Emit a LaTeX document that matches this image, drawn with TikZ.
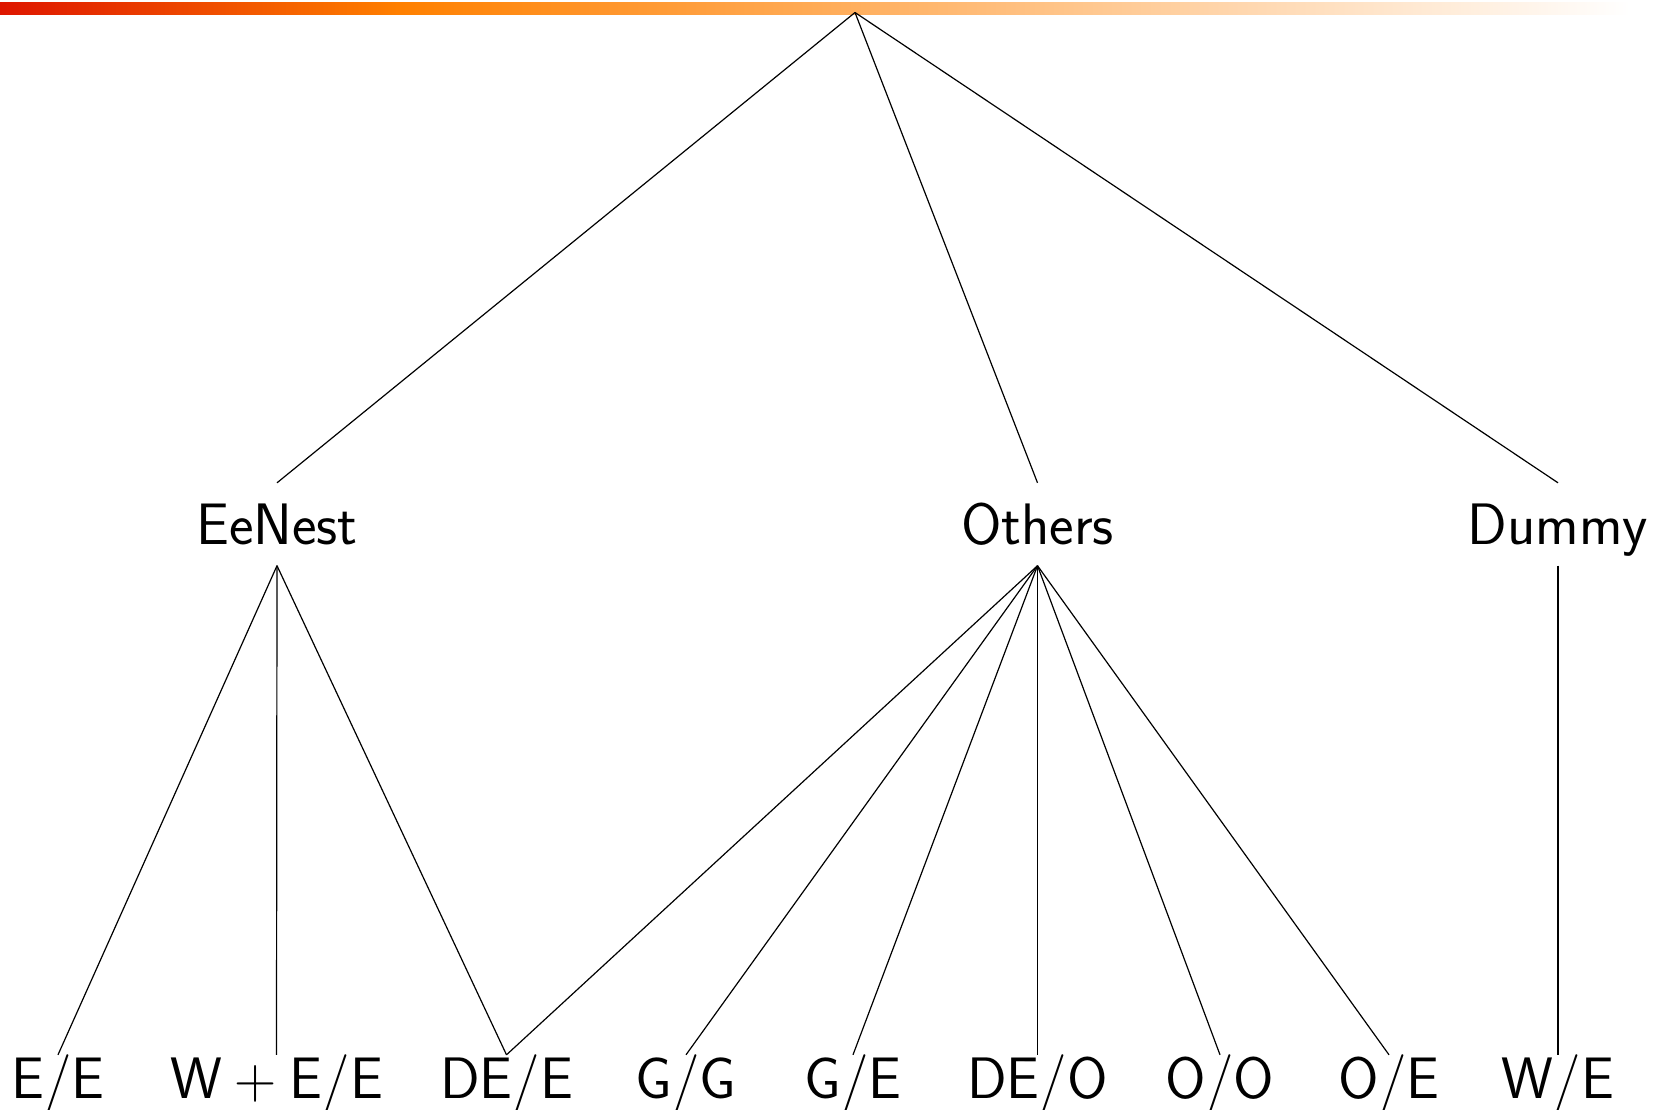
\documentclass[tikz,border=0pt]{standalone}
\definecolor{barred}{RGB}{222,22,0}
\definecolor{barorange}{RGB}{255,128,0}
\newcommand{\binplus}{\hspace{0.22em}{\rmfamily +}\hspace{0.22em}}
\begin{document}
\begin{tikzpicture}[x=1pt,y=-1pt,
  lbl/.style={font={\fontsize{58.5}{70}\selectfont\sffamily}, inner sep=0pt, anchor=base},
  inner/.style={lbl, text height=61pt, text depth=21.5pt},
  leaf/.style={lbl, text height=43pt, text depth=14pt},
  edge/.style={line width=1.2pt}]
\useasboundingbox (0,0) rectangle (1655,1109);

% title bar gradient
\fill[left color=barred, right color=barorange] (0,2) rectangle (401,14);
\fill[left color=barorange, right color=white] (400,2) rectangle (1630,14);

% root and first level
\coordinate (root) at (855,12.5);
\node[inner] (eenest) at (277,544) {EeNest};
\node[inner] (others) at (1037.5,544) {Others};
\node[inner] (dummy)  at (1558,544) {Dummy};

% leaves
\node[leaf] (ee)   at (58,1098)    {E/E};
\node[leaf] (wee)  at (276.5,1098) {W\binplus E/E};
\node[leaf] (dee)  at (506.5,1098) {DE/E};
\node[leaf] (gg)   at (686,1098)   {G/G};
\node[leaf] (ge)   at (853,1098)   {G/E};
\node[leaf] (deo)  at (1037.5,1098){DE/O};
\node[leaf] (oo)   at (1220,1098)  {O/O};
\node[leaf] (oe)   at (1389,1098)  {O/E};
\node[leaf] (we)   at (1558,1098)  {W/E};

% edges
\draw[edge] (root) -- (eenest.north);
\draw[edge] (root) -- (others.north);
\draw[edge] (root) -- (dummy.north);

\draw[edge] (eenest.south) -- (ee.north);
\draw[edge] (eenest.south) -- (wee.north);
\draw[edge] (eenest.south) -- (dee.north);

\draw[edge] (others.south) -- (dee.north);
\draw[edge] (others.south) -- (gg.north);
\draw[edge] (others.south) -- (ge.north);
\draw[edge] (others.south) -- (deo.north);
\draw[edge] (others.south) -- (oo.north);
\draw[edge] (others.south) -- (oe.north);

\draw[edge] (dummy.south) -- (we.north);
\end{tikzpicture}
\end{document}
